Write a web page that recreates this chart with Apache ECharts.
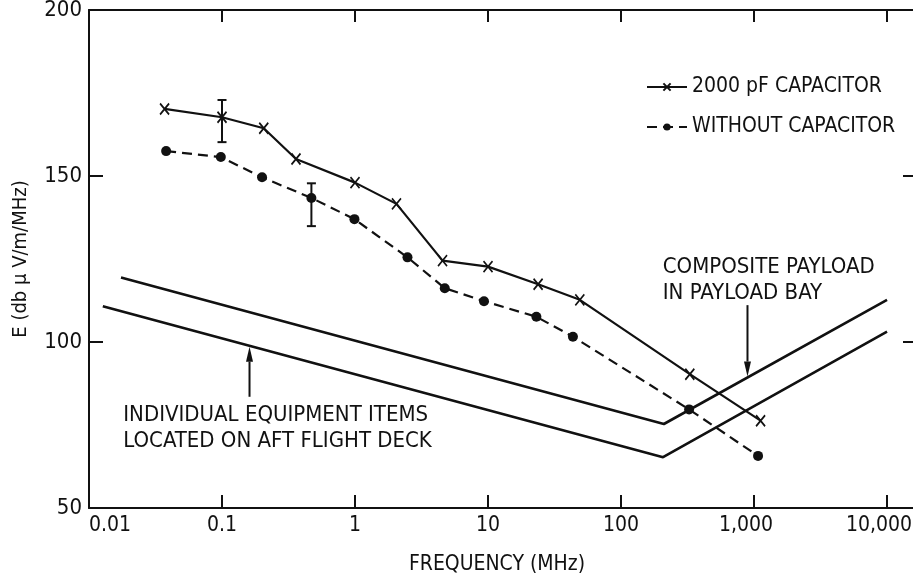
<!DOCTYPE html>
<html>
<head>
<meta charset="utf-8">
<script src="https://cdn.jsdelivr.net/npm/echarts@6/dist/echarts.min.js"></script>
<style>
html,body{margin:0;padding:0;background:#fff;}
#chart{width:913px;height:579px;}
</style>
</head>
<body>
<div id="chart"></div>
<script>
// ---- data ----
const freqCap   = [0.037, 0.1, 0.206, 0.36, 1, 2.05, 4.55, 10, 23.8, 49, 329, 1120];
const eCap      = [170.2, 167.7, 164.4, 155.1, 148.0, 141.6, 124.5, 122.7, 117.4, 112.7, 90.3, 76.3];
const freqNoCap = [0.038, 0.098, 0.2, 0.47, 0.99, 2.48, 4.73, 9.33, 23.1, 43.5, 325, 1072];
const eNoCap    = [157.5, 155.7, 149.6, 143.4, 137.0, 125.5, 116.2, 112.3, 107.6, 101.6, 79.7, 65.7];

const freqPayload = [0.0174, 210, 10000];
const ePayload    = [119.4, 75.3, 112.7];
const freqEquip   = [0.0127, 207, 10000];
const eEquip      = [110.8, 65.3, 103.1];

const errFreq = [0.1, 0.47];
const errLow  = [160.2, 134.9];
const errHigh = [172.9, 147.8];

const xTickValues = [0.01, 0.1, 1, 10, 100, 1000, 10000];
const xTickLabels = ['0.01', '0.1', '1', '10', '100', '1,000', '10,000'];
const yTickLabels = ['50', '100', '150', '200'];

const seriesNames = ['2000 pF CAPACITOR', 'WITHOUT CAPACITOR'];
const payloadText = 'COMPOSITE PAYLOAD\nIN PAYLOAD BAY';
const equipText = 'INDIVIDUAL EQUIPMENT ITEMS\nLOCATED ON AFT FLIGHT DECK';
// annotation arrows (data coords): tail -> head
const arrowFreq = [893, 0.161];
const arrowFrom = [111.1, 83.5];
const arrowTo   = [89.6, 98.6];
const payloadTextAt = [206, 118.7];
const equipTextAt = [0.0181, 74.1];

// ---- chart ----
const FONT = "'Liberation Sans Narrow', 'DejaVu Sans Condensed', 'Liberation Sans', sans-serif";
const ink = '#111';
const zip = (a, b) => a.map((v, i) => [v, b[i]]);

const chart = echarts.init(document.getElementById('chart'), null, {renderer: 'canvas'});

const axisLine = {show: true, lineStyle: {color: ink, width: 2}};
function xLabel(v) {
  for (let i = 0; i < xTickValues.length; i++) {
    if (Math.abs(Math.log10(v) - Math.log10(xTickValues[i])) < 1e-6) {
      const t = xTickLabels[i];
      return t.indexOf(',') >= 0 ? '{c|' + t + '}' : t;
    }
  }
  return '';
}
function yLabel(v) {
  const i = Math.round((v - 50) / 50);
  return (Math.abs(v - (50 + 50 * i)) < 1e-6 && yTickLabels[i]) ? yTickLabels[i] : '';
}

const xCommon = {
  type: 'log', logBase: 10, min: 0.01, max: 16800,
  axisLine: axisLine, splitLine: {show: false}, minorTick: {show: false}
};
const yCommon = {
  type: 'value', min: 50, max: 200, interval: 50,
  axisLine: axisLine, splitLine: {show: false}
};

const option = {
  backgroundColor: '#fff',
  animation: false,
  grid: {left: 89, top: 10, width: 828, bottom: 71, containLabel: false, outerBoundsMode: 'none'},
  xAxis: [
    Object.assign({}, xCommon, {
      position: 'bottom',
      axisTick: {show: true, inside: true, length: 13, lineStyle: {color: ink, width: 2}},
      axisLabel: {
        color: ink, fontFamily: FONT, fontSize: 21, margin: 7, formatter: xLabel,
        alignMinLabel: 'left', showMaxLabel: true,
        rich: {c: {color: ink, fontFamily: FONT, fontSize: 21, padding: [0, 16, 0, 0]}}
      },
      name: 'FREQUENCY (MHz)', nameLocation: 'middle', nameGap: 46,
      nameTextStyle: {color: ink, fontFamily: FONT, fontSize: 21, padding: [0, 12, 0, 0]}
    }),
    Object.assign({}, xCommon, {
      position: 'top',
      axisTick: {show: true, inside: true, length: 12, lineStyle: {color: ink, width: 2}},
      axisLabel: {show: false}
    })
  ],
  yAxis: [
    Object.assign({}, yCommon, {
      position: 'left',
      axisTick: {show: true, inside: true, length: 14, lineStyle: {color: ink, width: 2}},
      axisLabel: {color: ink, fontFamily: FONT, fontSize: 22, margin: 7, formatter: yLabel},
      name: 'E (db \u03bc V/m/MHz)', nameLocation: 'middle', nameGap: 58, nameRotate: 90,
      nameTextStyle: {color: ink, fontFamily: FONT, fontSize: 20}
    }),
    Object.assign({}, yCommon, {
      position: 'right',
      axisTick: {show: true, inside: true, length: 14, lineStyle: {color: ink, width: 2}},
      axisLabel: {show: false}
    })
  ],
  legend: {
    data: seriesNames,
    orient: 'vertical', left: 641, top: 70,
    itemWidth: 40, itemHeight: 9, itemGap: 16,
    textStyle: {color: ink, fontFamily: FONT, fontSize: 21, lineHeight: 24},
    selectedMode: false
  },
  series: [
    {
      name: seriesNames[0], type: 'line', data: zip(freqCap, eCap),
      symbol: 'path://M0,0L10,12M10,0L0,12', symbolSize: [9, 11],
      showAllSymbol: true,
      lineStyle: {color: ink, width: 2.2},
      itemStyle: {color: ink, borderColor: ink, borderWidth: 1.8},
      z: 5, silent: true
    },
    {
      name: seriesNames[1], type: 'line', data: zip(freqNoCap, eNoCap),
      symbol: 'circle', symbolSize: 10, showAllSymbol: true,
      lineStyle: {color: ink, width: 2.2, type: [10, 6]},
      itemStyle: {color: ink, borderWidth: 0},
      z: 5, silent: true
    },
    {
      name: 'payload', type: 'line', data: zip(freqPayload, ePayload),
      symbol: 'none', lineStyle: {color: ink, width: 2.6}, silent: true
    },
    {
      name: 'equip', type: 'line', data: zip(freqEquip, eEquip),
      symbol: 'none', lineStyle: {color: ink, width: 2.6}, silent: true
    },
    {
      name: 'errorbars', type: 'custom', silent: true,
      data: errFreq.map((f, i) => [f, errLow[i], errHigh[i]]),
      encode: {x: 0, y: [1, 2]},
      renderItem: function (params, api) {
        const lo = api.coord([api.value(0), api.value(1)]);
        const hi = api.coord([api.value(0), api.value(2)]);
        const w = 4.5;
        const st = {stroke: ink, lineWidth: 2};
        return {type: 'group', children: [
          {type: 'line', shape: {x1: lo[0], y1: lo[1], x2: hi[0], y2: hi[1]}, style: st},
          {type: 'line', shape: {x1: lo[0] - w, y1: lo[1], x2: lo[0] + w, y2: lo[1]}, style: st},
          {type: 'line', shape: {x1: hi[0] - w, y1: hi[1], x2: hi[0] + w, y2: hi[1]}, style: st}
        ]};
      },
      z: 6
    },
    {
      name: 'arrows', type: 'custom', silent: true,
      data: arrowFreq.map((f, i) => [f, arrowFrom[i], arrowTo[i]]),
      encode: {x: 0, y: [1, 2]},
      renderItem: function (params, api) {
        const a = api.coord([api.value(0), api.value(1)]);
        const b = api.coord([api.value(0), api.value(2)]);
        const dir = b[1] > a[1] ? 1 : -1;
        const L = 15, W = 3.5;
        return {type: 'group', children: [
          {type: 'line', shape: {x1: a[0], y1: a[1], x2: b[0], y2: b[1] - dir * L}, style: {stroke: ink, lineWidth: 2}},
          {type: 'polygon', shape: {points: [[b[0], b[1]], [b[0] - W, b[1] - dir * L], [b[0] + W, b[1] - dir * L]]}, style: {fill: ink}}
        ]};
      },
      z: 6
    }
  ]
};
chart.setOption(option);

const pPay = chart.convertToPixel({gridIndex: 0}, payloadTextAt);
const pEq = chart.convertToPixel({gridIndex: 0}, equipTextAt);
chart.setOption({
  graphic: [
    {type: 'text', x: pPay[0], y: pPay[1], style: {text: payloadText, font: '22px ' + FONT, fill: ink, lineHeight: 26, textAlign: 'left', textVerticalAlign: 'middle'}},
    {type: 'text', x: pEq[0], y: pEq[1], style: {text: equipText, font: '22px ' + FONT, fill: ink, lineHeight: 26, textAlign: 'left', textVerticalAlign: 'middle'}}
  ]
});
</script>
</body>
</html>
